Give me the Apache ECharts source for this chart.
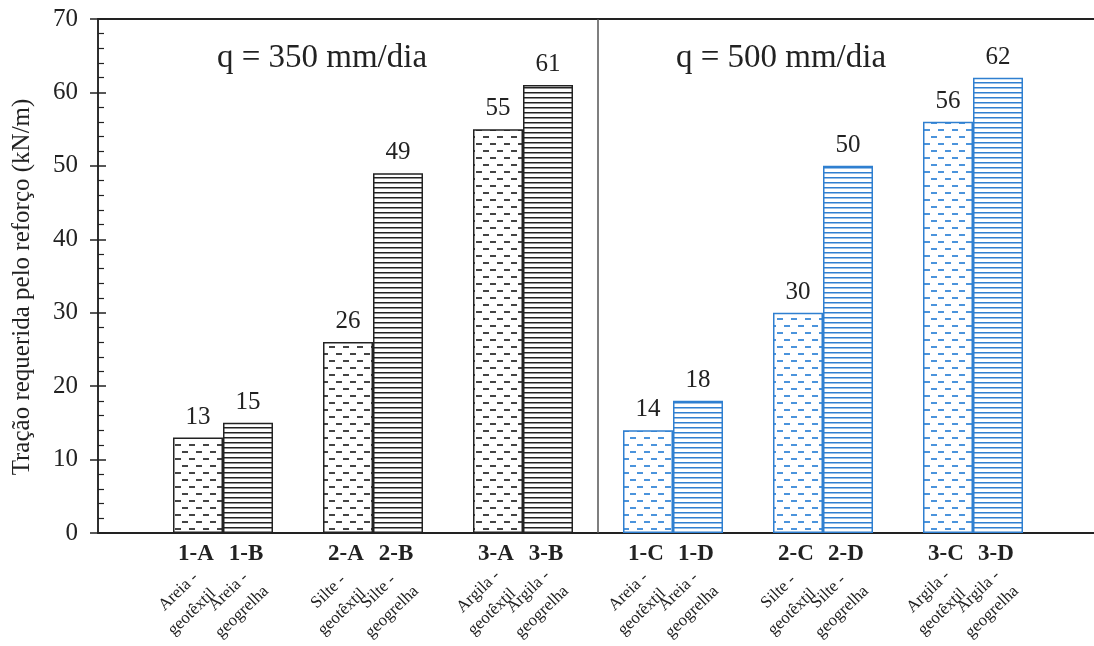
<!DOCTYPE html>
<html>
<head>
<meta charset="utf-8">
<script src="https://cdn.jsdelivr.net/npm/echarts@6/dist/echarts.min.js"></script>
<style>
html,body{margin:0;padding:0;background:#fff;}
#chart{width:1094px;height:646px;}
</style>
</head>
<body>
<div id="chart"></div>
<script>
// ---- data ----
const codes = ['1-A','1-B','2-A','2-B','3-A','3-B','1-C','1-D','2-C','2-D','3-C','3-D'];
const soils = ['Areia -','Areia -','Silte -','Silte -','Argila -','Argila -','Areia -','Areia -','Silte -','Silte -','Argila -','Argila -'];
const materials = ['geotêxtil','geogrelha','geotêxtil','geogrelha','geotêxtil','geogrelha','geotêxtil','geogrelha','geotêxtil','geogrelha','geotêxtil','geogrelha'];
const values = [13,15,26,49,55,61,14,18,30,50,56,62];
const reinforcement = ['geotextile','geogrid','geotextile','geogrid','geotextile','geogrid','geotextile','geogrid','geotextile','geogrid','geotextile','geogrid'];
const rainfall = ['350','350','350','350','350','350','500','500','500','500','500','500'];
const panelTitles = ['q = 350 mm/dia','q = 500 mm/dia'];
const yTicks = [0,10,20,30,40,50,60,70];
const yAxisName = 'Tração requerida pelo reforço (kN/m)';

// ---- layout helpers ----
const FONT = "'Liberation Serif','Times New Roman',serif";
const BLACK = '#222222';
const BLUE = '#2f7fd0';
// slot position: pairs of bars with a one-bar gap between groups
const positions = codes.map((c, i) => 2 + 3 * Math.floor(i / 2) + (i % 2));
const dividerAt = (positions[5] + positions[6]) / 2;

function dashPattern(color) {
  const c = document.createElement('canvas');
  c.width = 14; c.height = 14;
  const g = c.getContext('2d');
  g.fillStyle = '#fff'; g.fillRect(0, 0, 14, 14);
  g.fillStyle = color;
  g.fillRect(0, 3, 6, 2);
  g.fillRect(7, 10, 6, 2);
  return c;
}
function linePattern(color) {
  const c = document.createElement('canvas');
  c.width = 10; c.height = 5;
  const g = c.getContext('2d');
  g.fillStyle = '#fff'; g.fillRect(0, 0, 10, 5);
  g.fillStyle = color;
  g.fillRect(0, 2, 10, 1.5);
  return c;
}
const fills = {
  '350': {geotextile: dashPattern('#444'), geogrid: linePattern('#222'), color: BLACK},
  '500': {geotextile: dashPattern('#4b94dc'), geogrid: linePattern(BLUE), color: BLUE}
};

const barData = values.map((v, i) => {
  const f = fills[rainfall[i]];
  return {
    value: [positions[i], v],
    itemStyle: {
      color: {image: f[reinforcement[i]], repeat: 'repeat'},
      borderColor: f.color,
      borderWidth: 1.5
    }
  };
});

const ROT = 44 * Math.PI / 180;

const chart = echarts.init(document.getElementById('chart'), null, {renderer: 'canvas'});
const yMin = yTicks[0], yMax = yTicks[yTicks.length - 1], yStep = yTicks[1] - yTicks[0];

chart.setOption({
  animation: false,
  backgroundColor: '#fff',
  grid: {left: 98, right: 0, top: 19, bottom: 113},
  xAxis: [
    {type: 'value', min: 0, max: 19.92, position: 'bottom',
     axisLine: {show: true, onZero: false, lineStyle: {color: BLACK, width: 2}},
     axisTick: {show: false}, axisLabel: {show: false}, splitLine: {show: false}},
    {type: 'value', min: 0, max: 19.92, position: 'top',
     axisLine: {show: true, onZero: false, lineStyle: {color: BLACK, width: 2}},
     axisTick: {show: false}, axisLabel: {show: false}, splitLine: {show: false}}
  ],
  yAxis: [
    {type: 'value', min: yMin, max: yMax, interval: yStep, position: 'left',
     axisLine: {show: true, lineStyle: {color: BLACK, width: 1.5}},
     axisTick: {show: true, inside: false, length: 8, lineStyle: {color: BLACK, width: 1.5}},
     axisLabel: {show: true, margin: 20, fontFamily: FONT, fontSize: 25, color: BLACK},
     splitLine: {show: false}},
    {type: 'value', min: yMin, max: yMax, interval: yStep, position: 'left',
     axisLine: {show: true, lineStyle: {color: BLACK, width: 1.5}},
     axisTick: {show: true, inside: true, length: 8, lineStyle: {color: BLACK, width: 1.5}},
     minorTick: {show: true, splitNumber: 5, length: 6, lineStyle: {color: BLACK, width: 1.2}},
     axisLabel: {show: false}, splitLine: {show: false}}
  ],
  series: [
    {
      type: 'bar', xAxisIndex: 0, yAxisIndex: 0,
      barWidth: 50,
      data: barData,
      label: {show: true, position: 'top', distance: 8, fontFamily: FONT, fontSize: 25, color: BLACK,
              formatter: p => p.value[1]},
      markLine: {
        silent: true, symbol: 'none', label: {show: false},
        lineStyle: {color: '#555', width: 1.5, type: 'solid'},
        data: [{xAxis: dividerAt}]
      }
    },
    {
      type: 'custom', xAxisIndex: 0, yAxisIndex: 0, silent: true, clip: false,
      data: positions.map(p => [p, 0]),
      renderItem: function (params, api) {
        const i = params.dataIndex;
        const pt = api.coord([api.value(0), 0]);
        const l2x = pt[0] - 6, l2y = pt[1] + 79;
        const l1x = l2x - 13.5, l1y = l2y - 20.4;
        const lineStyle = {fill: BLACK, font: '17px ' + FONT, align: 'center', verticalAlign: 'middle'};
        return {
          type: 'group',
          children: [
            {type: 'text', x: pt[0] - 2, y: pt[1] + 21,
             style: {text: codes[i], fill: BLACK, font: 'bold 23px ' + FONT, align: 'center', verticalAlign: 'middle'}},
            {type: 'text', x: l1x, y: l1y, rotation: ROT,
             style: Object.assign({text: soils[i]}, lineStyle)},
            {type: 'text', x: l2x, y: l2y, rotation: ROT,
             style: Object.assign({text: materials[i]}, lineStyle)}
          ]
        };
      }
    }
  ],
  graphic: [
    {type: 'text', x: 322, y: 58,
     style: {text: panelTitles[0], fill: BLACK, font: '33px ' + FONT, align: 'center', verticalAlign: 'middle'}},
    {type: 'text', x: 781, y: 58,
     style: {text: panelTitles[1], fill: BLACK, font: '33px ' + FONT, align: 'center', verticalAlign: 'middle'}},
    {type: 'text', x: 22, y: 287, rotation: Math.PI / 2,
     style: {text: yAxisName, fill: BLACK, font: '25px ' + FONT, align: 'center', verticalAlign: 'middle'}}
  ]
});
</script>
</body>
</html>
